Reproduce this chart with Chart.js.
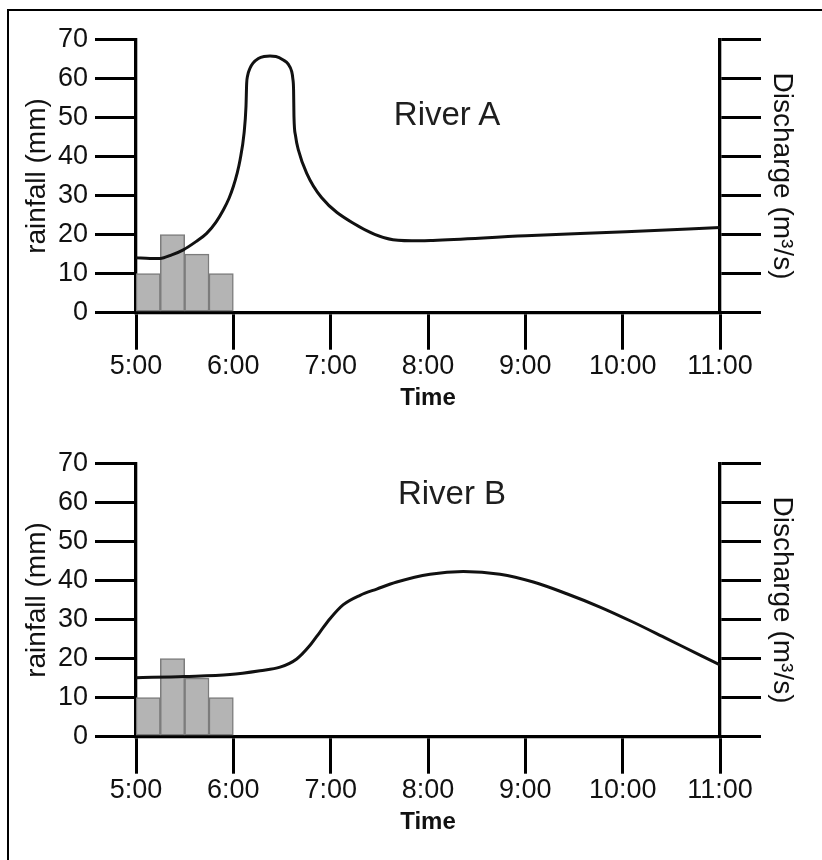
<!DOCTYPE html>
<html>
<head>
<meta charset="utf-8">
<title>River A / River B hydrographs</title>
<script src="https://cdn.jsdelivr.net/npm/chart.js@4/dist/chart.umd.min.js"></script>
<style>
  body { margin: 0; background: #fff; }
  #page { position: relative; width: 822px; height: 860px; overflow: hidden; }
  #frame { position: absolute; left: 7px; top: 9px; width: 900px; height: 900px;
           border-top: 2px solid #000; border-left: 2px solid #000; }
  .box { position: absolute; left: 0; width: 822px; height: 430px; }
  .river { position: absolute; font-family: 'Liberation Sans', Arial, sans-serif;
           font-size: 33px; color: #1e1e1e; transform: translate(-50%, -50%); white-space: nowrap; }
</style>
</head>
<body>
<div id="page">
  <div id="frame"></div>
  <div class="box" style="top:0"><canvas id="chartA" width="822" height="430"></canvas></div>
  <div class="box" style="top:424px"><canvas id="chartB" width="822" height="430"></canvas></div>
  <div class="river" style="left:447px; top:114px">River A</div>
  <div class="river" style="left:452px; top:493px">River B</div>
</div>
<script>
// time axis, in hours
var hourTicks = [5, 6, 7, 8, 9, 10, 11];
var tickLabels = ['5:00', '6:00', '7:00', '8:00', '9:00', '10:00', '11:00'];

// rainfall bars (15 minute blocks, mm)
var rainTimes = [5.125, 5.375, 5.625, 5.875];
var rainA = [10, 20, 15, 10];
var rainB = [10, 20, 15, 10];

// discharge curves
var timeA = [5.000, 5.144, 5.247, 5.367, 5.486, 5.616, 5.726, 5.822, 5.897, 5.956, 6.000, 6.038,
             6.069, 6.110, 6.130, 6.137, 6.146, 6.171, 6.202, 6.257, 6.315, 6.377, 6.438, 6.513,
             6.562, 6.600, 6.611, 6.619, 6.623, 6.639, 6.668, 6.754, 6.906, 7.233, 7.640, 7.920,
             8.050, 9.004, 10.034, 11.000];
var dischargeA = [14.1, 13.9, 13.9, 14.8, 16.1, 18.2, 20.3, 23.2, 26.3, 29.3, 32.3, 35.6,
                  39.1, 45.9, 52.8, 58.7, 60.6, 62.6, 63.9, 65.1, 65.6, 65.7, 65.6, 64.7,
                  63.7, 61.7, 60.0, 57.0, 50.2, 45.3, 41.7, 35.7, 29.5, 22.9, 18.7, 18.4,
                  18.5, 19.7, 20.7, 21.8];

var timeB = [5.000, 5.500, 5.966, 6.274, 6.480, 6.651, 6.788, 6.890, 6.993, 7.130, 7.302, 7.473,
             7.679, 8.021, 8.363, 8.740, 9.082, 9.425, 9.767, 10.110, 10.453, 10.795, 11.000];
var dischargeB = [15.1, 15.4, 15.9, 16.9, 17.8, 19.9, 23.4, 26.8, 30.2, 33.8, 36.2, 37.8,
                  39.6, 41.6, 42.3, 41.6, 39.6, 36.6, 33.2, 29.3, 25.1, 20.9, 18.4];

var yTicks = [0, 10, 20, 30, 40, 50, 60, 70];

var fontFamily = "'Liberation Sans', Arial, Helvetica, sans-serif";
var ink = '#111';

function points(xs, ys) {
    return xs.map(function (x, i) { return { x: x, y: ys[i] }; });
}

function makeChart(id, times, discharge, rain) {
    var ctx = document.getElementById(id).getContext('2d');
    return new Chart(ctx, {
        type: 'line',
        data: {
            datasets: [{
                type: 'line',
                label: 'Discharge',
                data: points(times, discharge),
                borderColor: '#111',
                borderWidth: 3,
                pointRadius: 0,
                fill: false,
                // monotone keeps the near-vertical flanks of River A from overshooting
                cubicInterpolationMode: 'monotone',
                yAxisID: 'y',
                order: 0
            }, {
                type: 'bar',
                label: 'Rainfall',
                data: points(rainTimes, rain),
                backgroundColor: '#b4b4b4',
                borderColor: '#7c7c7c',
                borderWidth: 1.5,
                borderSkipped: false,
                barPercentage: 1,
                categoryPercentage: 1,
                yAxisID: 'y',
                order: 1
            }]
        },
        options: {
            responsive: false,
            animation: false,
            layout: { padding: { top: 39.3, left: 0, right: 0, bottom: 0 } },
            plugins: { legend: { display: false }, tooltip: { enabled: false } },
            scales: {
                x: {
                    type: 'linear',
                    min: hourTicks[0],
                    max: hourTicks[hourTicks.length - 1],
                    offset: false,
                    z: 1,
                    afterBuildTicks: function (scale) {
                        scale.ticks = hourTicks.map(function (v) { return { value: v }; });
                    },
                    afterFit: function (scale) { scale.height = 117.3; },
                    grid: { offset: false, drawOnChartArea: false, color: '#000', lineWidth: 3, tickLength: 37 },
                    border: { color: '#000', width: 3.3 },
                    ticks: {
                        color: ink,
                        padding: 1,
                        maxRotation: 0,
                        autoSkip: false,
                        font: { family: fontFamily, size: 27 },
                        callback: function (v) { return tickLabels[hourTicks.indexOf(v)]; }
                    },
                    title: {
                        display: true,
                        text: 'Time',
                        color: ink,
                        padding: { top: 0, bottom: 17.6 },
                        font: { family: fontFamily, size: 24, weight: 'bold' }
                    }
                },
                y: {
                    position: 'left',
                    min: yTicks[0],
                    max: yTicks[yTicks.length - 1],
                    z: 1,
                    afterBuildTicks: function (scale) {
                        scale.ticks = yTicks.map(function (v) { return { value: v }; });
                    },
                    afterFit: function (scale) { scale.width = 136; },
                    grid: { drawOnChartArea: false, color: '#000', lineWidth: 3, tickLength: 41 },
                    border: { color: '#000', width: 3.3 },
                    ticks: {
                        color: ink,
                        padding: 7,
                        font: { family: fontFamily, size: 27 }
                    },
                    title: {
                        display: true,
                        text: 'rainfall (mm)',
                        color: ink,
                        padding: { top: 20.5, bottom: 0 },
                        font: { family: fontFamily, size: 28 }
                    }
                },
                y2: {
                    position: 'right',
                    min: yTicks[0],
                    max: yTicks[yTicks.length - 1],
                    z: 1,
                    afterBuildTicks: function (scale) {
                        scale.ticks = yTicks.map(function (v) { return { value: v }; });
                    },
                    afterFit: function (scale) { scale.width = 102; },
                    grid: { drawOnChartArea: false, color: '#000', lineWidth: 3, tickLength: 41 },
                    border: { color: '#000', width: 3.3 },
                    ticks: { display: false },
                    title: {
                        display: true,
                        text: 'Discharge (m\u00b3/s)',
                        color: ink,
                        padding: { top: 23.5, bottom: 0 },
                        font: { family: fontFamily, size: 28 }
                    }
                }
            }
        }
    });
}

makeChart('chartA', timeA, dischargeA, rainA);
makeChart('chartB', timeB, dischargeB, rainB);
</script>
</body>
</html>
